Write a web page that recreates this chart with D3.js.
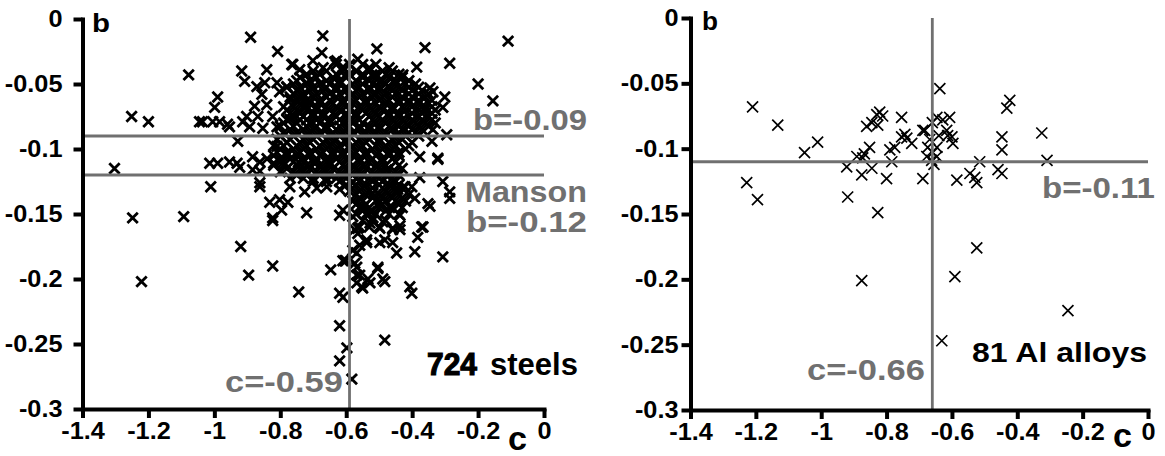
<!DOCTYPE html>
<html><head><meta charset="utf-8">
<script src="https://cdn.jsdelivr.net/npm/d3@7"></script>
<style>
body{margin:0;background:#fff}
svg text{font-family:"Liberation Sans",Arial,sans-serif;font-weight:bold}
</style></head><body>
<svg id="chart" width="1165" height="456"></svg>
<script>
// axis ticks
var xTicks = [-1.4,-1.2,-1,-0.8,-0.6,-0.4,-0.2,0];
var xTickLabels = ["-1.4","-1.2","-1","-0.8","-0.6","-0.4","-0.2","0"];
var yTicks = [0,-0.05,-0.1,-0.15,-0.2,-0.25,-0.3];
var yTickLabels = ["0","-0.05","-0.1","-0.15","-0.2","-0.25","-0.3"];

// reference lines
var steelsB = [-0.09,-0.12], steelsC = -0.59;
var alloysB = [-0.11], alloysC = -0.66;

// steels: scattered points [c, b]
var steelsOuter = [
[-1.303,-0.115],[-1.251,-0.075],[-1.200,-0.079],[-1.248,-0.153],[-1.221,-0.202],[-1.093,-0.152],[-1.078,-0.043],
[-1.045,-0.079],[-1.005,-0.079],[-0.984,-0.079],[-0.999,-0.068],[-0.990,-0.060],[-1.036,-0.079],[-0.960,-0.081],
[-0.954,-0.083],[-0.914,-0.079],[-0.929,-0.094],[-1.014,-0.111],[-0.990,-0.111],[-0.954,-0.110],[-1.011,-0.129],
[-0.890,-0.014],[-0.808,-0.025],[-0.762,-0.035],[-0.917,-0.040],[-0.908,-0.048],[-0.841,-0.039],[-0.847,-0.049],
[-0.871,-0.052],[-0.856,-0.058],[-0.810,-0.049],[-0.802,-0.056],[-0.878,-0.067],[-0.841,-0.066],[-0.902,-0.075],
[-0.868,-0.075],[-0.823,-0.075],[-0.893,-0.083],[-0.853,-0.084],[-0.810,-0.083],[-0.771,-0.077],[-0.771,-0.062],
[-0.780,-0.052],[-0.720,-0.049],[-0.741,-0.060],[-0.720,-0.067],[-0.741,-0.072],[-0.741,-0.039],[-0.884,-0.106],
[-0.884,-0.116],[-0.862,-0.129],[-0.810,-0.098],[-0.780,-0.095],[-0.931,-0.111],[-0.862,-0.110],[-0.820,-0.111],
[-0.790,-0.110],[-0.745,-0.110],[-0.695,-0.111],[-0.650,-0.110],[-0.862,-0.117],[-0.923,-0.114],
[-0.862,-0.126],[-0.771,-0.129],[-0.726,-0.133],[-0.689,-0.130],[-0.659,-0.129],[-0.620,-0.131],[-0.832,-0.141],
[-0.802,-0.139],[-0.777,-0.141],[-0.796,-0.147],[-0.823,-0.155],[-0.720,-0.149],[-0.620,-0.151],[-0.823,-0.153],
[-0.920,-0.175],[-0.896,-0.197],[-0.823,-0.190],[-0.744,-0.210],[-0.647,-0.193],[-0.604,-0.186],[-0.620,-0.211],
[-0.610,-0.214],[-0.620,-0.236],[-0.598,-0.253],[-0.620,-0.263],[-0.583,-0.277],[-0.580,-0.152],[-0.574,-0.162],
[-0.580,-0.178],[-0.574,-0.188],[-0.568,-0.197],[-0.568,-0.203],[-0.483,-0.247],[-0.601,-0.186],[-0.568,-0.191],
[-0.559,-0.197],[-0.550,-0.207],[-0.528,-0.203],[-0.504,-0.192],[-0.483,-0.202],[-0.407,-0.206],[-0.401,-0.211],
[-0.307,-0.183],[-0.392,-0.179],[-0.383,-0.168],[-0.367,-0.160],[-0.447,-0.180],[-0.459,-0.172],[-0.498,-0.172],
[-0.538,-0.170],[-0.559,-0.174],[-0.568,-0.180],[-0.498,-0.161],[-0.459,-0.161],[-0.437,-0.162],[-0.528,-0.157],
[-0.565,-0.161],[-0.322,-0.108],[-0.307,-0.125],[-0.286,-0.133],[-0.286,-0.138],[-0.352,-0.142],[-0.346,-0.144],
[-0.392,-0.138],[-0.401,-0.129],[-0.377,-0.122],[-0.444,-0.131],[-0.453,-0.125],[-0.422,-0.129],[-0.477,-0.116],
[-0.519,-0.134],[-0.498,-0.141],[-0.468,-0.145],[-0.437,-0.151],[-0.559,-0.138],[-0.550,-0.145],[-0.528,-0.148],
[-0.519,-0.153],[-0.489,-0.156],[-0.459,-0.162],[-0.437,-0.159],[-0.371,-0.160],[-0.565,-0.165],[-0.538,-0.172],
[-0.483,-0.170],[-0.504,-0.191],[-0.534,-0.200],[-0.489,-0.200],[-0.553,-0.206],[-0.610,-0.147],[-0.610,-0.186],
[-0.580,-0.126],[-0.109,-0.017],[-0.200,-0.050],[-0.155,-0.063],[-0.286,-0.034],[-0.361,-0.022],[-0.507,-0.023],
[-0.386,-0.037],[-0.428,-0.043],[-0.522,-0.043],[-0.498,-0.048],[-0.474,-0.052],[-0.565,-0.031],[-0.346,-0.053],
[-0.337,-0.056],[-0.301,-0.060],[-0.307,-0.068],[-0.361,-0.068],[-0.295,-0.089],[-0.340,-0.094],[-0.322,-0.107],
[-0.377,-0.106],[-0.337,-0.085],[-0.671,-0.013],[-0.674,-0.026],[-0.701,-0.032],[-0.765,-0.035],[-0.629,-0.032],
[-0.568,-0.040],[-0.519,-0.044],[-0.431,-0.044],[-0.635,-0.033],[-0.610,-0.037]
];

// steels: dense core, read row by row [b, c values]
var steelsCore = [
[-0.035,[-0.63,-0.59,-0.55,-0.51]],
[-0.0375,[-0.67,-0.61,-0.53,-0.47]],
[-0.040,[-0.70,-0.66,-0.61,-0.57,-0.53,-0.49,-0.46]],
[-0.0425,[-0.72,-0.68,-0.63,-0.59,-0.55,-0.51,-0.48,-0.44]],
[-0.045,[-0.74,-0.69,-0.64,-0.60,-0.55,-0.51,-0.47,-0.43]],
[-0.0475,[-0.75,-0.71,-0.66,-0.62,-0.57,-0.53,-0.49,-0.45,-0.41]],
[-0.050,[-0.76,-0.72,-0.68,-0.65,-0.62,-0.58,-0.55,-0.52,-0.48,-0.45,-0.42,-0.39]],
[-0.0525,[-0.78,-0.74,-0.70,-0.66,-0.63,-0.60,-0.56,-0.53,-0.50,-0.47,-0.44,-0.41,-0.38]],
[-0.055,[-0.75,-0.71,-0.67,-0.63,-0.60,-0.57,-0.53,-0.50,-0.46,-0.43,-0.40,-0.37]],
[-0.0575,[-0.76,-0.73,-0.69,-0.65,-0.62,-0.58,-0.55,-0.51,-0.48,-0.45,-0.41,-0.38,-0.35]],
[-0.060,[-0.77,-0.73,-0.70,-0.66,-0.63,-0.59,-0.56,-0.52,-0.49,-0.46,-0.43,-0.40,-0.36]],
[-0.0625,[-0.75,-0.72,-0.68,-0.65,-0.61,-0.57,-0.54,-0.50,-0.47,-0.44,-0.41,-0.38,-0.34]],
[-0.065,[-0.74,-0.71,-0.68,-0.64,-0.61,-0.58,-0.54,-0.51,-0.48,-0.44,-0.41,-0.38,-0.35]],
[-0.0675,[-0.79,-0.76,-0.73,-0.69,-0.66,-0.63,-0.60,-0.56,-0.53,-0.50,-0.46,-0.43,-0.40,-0.37,-0.34]],
[-0.070,[-0.78,-0.75,-0.72,-0.69,-0.65,-0.62,-0.59,-0.55,-0.52,-0.49,-0.46,-0.42,-0.39,-0.36,-0.33]],
[-0.0725,[-0.77,-0.74,-0.70,-0.67,-0.64,-0.60,-0.57,-0.54,-0.51,-0.47,-0.44,-0.40,-0.37,-0.34]],
[-0.075,[-0.76,-0.73,-0.70,-0.67,-0.63,-0.60,-0.57,-0.53,-0.50,-0.47,-0.44,-0.41,-0.38,-0.35]],
[-0.0775,[-0.78,-0.74,-0.72,-0.69,-0.65,-0.62,-0.59,-0.56,-0.52,-0.49,-0.46,-0.43,-0.40,-0.37,-0.34]],
[-0.080,[-0.79,-0.75,-0.71,-0.68,-0.65,-0.61,-0.58,-0.55,-0.51,-0.48,-0.45,-0.42,-0.39,-0.36,-0.33]],
[-0.0825,[-0.80,-0.76,-0.72,-0.69,-0.66,-0.62,-0.59,-0.56,-0.53,-0.50,-0.47,-0.44,-0.41,-0.38,-0.35]],
[-0.085,[-0.77,-0.73,-0.70,-0.66,-0.63,-0.60,-0.56,-0.53,-0.50,-0.46,-0.43,-0.40,-0.37]],
[-0.0875,[-0.79,-0.75,-0.71,-0.68,-0.64,-0.61,-0.58,-0.54,-0.51,-0.48,-0.44,-0.41,-0.39]],
[-0.090,[-0.80,-0.76,-0.72,-0.69,-0.65,-0.62,-0.59,-0.55,-0.52,-0.49,-0.45,-0.42,-0.38]],
[-0.0925,[-0.81,-0.77,-0.73,-0.70,-0.66,-0.63,-0.60,-0.56,-0.53,-0.50,-0.46,-0.43]],
[-0.095,[-0.78,-0.74,-0.71,-0.67,-0.64,-0.60,-0.57,-0.54,-0.50,-0.47,-0.44,-0.40]],
[-0.0975,[-0.82,-0.79,-0.75,-0.72,-0.68,-0.65,-0.62,-0.58,-0.55,-0.51,-0.48,-0.45,-0.41]],
[-0.100,[-0.80,-0.76,-0.73,-0.69,-0.66,-0.63,-0.59,-0.56,-0.52,-0.49,-0.46,-0.42]],
[-0.1025,[-0.81,-0.78,-0.74,-0.71,-0.67,-0.64,-0.61,-0.57,-0.54,-0.50,-0.47,-0.44]],
[-0.105,[-0.82,-0.78,-0.75,-0.71,-0.68,-0.64,-0.61,-0.58,-0.54,-0.51,-0.47,-0.44]],
[-0.1075,[-0.84,-0.80,-0.77,-0.73,-0.69,-0.66,-0.63,-0.60,-0.56,-0.52,-0.49,-0.46]],
[-0.110,[-0.80,-0.76,-0.73,-0.70,-0.66,-0.62,-0.59,-0.56,-0.53,-0.49,-0.45]],
[-0.1125,[-0.82,-0.79,-0.75,-0.72,-0.68,-0.65,-0.61,-0.58,-0.55,-0.51,-0.48,-0.44]],
[-0.115,[-0.78,-0.74,-0.71,-0.67,-0.64,-0.60,-0.57,-0.54,-0.50,-0.47,-0.43]],
[-0.1175,[-0.80,-0.76,-0.73,-0.69,-0.66,-0.62,-0.59,-0.56,-0.52,-0.49,-0.45]],
[-0.120,[-0.75,-0.72,-0.68,-0.65,-0.61,-0.58,-0.55,-0.51,-0.48,-0.44]],
[-0.1225,[-0.77,-0.73,-0.70,-0.66,-0.63,-0.60,-0.57,-0.53,-0.50,-0.46]],
[-0.125,[-0.70,-0.66,-0.62,-0.56,-0.52,-0.49,-0.45]],
[-0.1275,[-0.60,-0.57,-0.54,-0.50,-0.47,-0.44]],
[-0.130,[-0.58,-0.55,-0.52,-0.49,-0.46,-0.43]],
[-0.1325,[-0.59,-0.56,-0.53,-0.48,-0.45]],
[-0.135,[-0.57,-0.54,-0.50,-0.47,-0.44,-0.41]],
[-0.1375,[-0.56,-0.52,-0.49,-0.46,-0.43]],
[-0.140,[-0.58,-0.55,-0.51,-0.48,-0.45,-0.42]],
[-0.1425,[-0.57,-0.54,-0.49,-0.44]],
[-0.145,[-0.56,-0.53,-0.50,-0.46,-0.43]],
[-0.1475,[-0.55,-0.52,-0.48]],
[-0.150,[-0.57,-0.54,-0.51,-0.47,-0.44]],
[-0.155,[-0.55,-0.52,-0.48]],
[-0.160,[-0.56,-0.53,-0.50]]
];

// Al alloys [c, b]
var alloys = [
[-1.210,-0.068],[-1.133,-0.082],[-1.228,-0.126],[-1.195,-0.139],[-1.051,-0.103],[-1.011,-0.095],
[-0.922,-0.114],[-0.919,-0.137],[-0.876,-0.201],[-0.891,-0.106],[-0.876,-0.120],[-0.873,-0.107],
[-0.868,-0.104],[-0.845,-0.115],[-0.852,-0.099],[-0.861,-0.083],[-0.845,-0.080],[-0.830,-0.074],
[-0.821,-0.072],[-0.812,-0.075],[-0.827,-0.082],[-0.827,-0.149],[-0.800,-0.123],[-0.784,-0.110],
[-0.775,-0.099],[-0.790,-0.101],[-0.754,-0.076],[-0.754,-0.091],[-0.738,-0.092],[-0.723,-0.096],
[-0.744,-0.089],[-0.689,-0.123],[-0.683,-0.086],[-0.689,-0.086],[-0.668,-0.093],[-0.677,-0.106],[-0.674,-0.099],
[-0.659,-0.103],[-0.662,-0.109],[-0.646,-0.106],[-0.646,-0.099],[-0.655,-0.112],[-0.637,-0.054],
[-0.646,-0.076],[-0.628,-0.078],[-0.607,-0.076],[-0.616,-0.086],[-0.613,-0.090],[-0.600,-0.091],
[-0.597,-0.096],[-0.585,-0.124],[-0.545,-0.119],[-0.530,-0.122],[-0.524,-0.126],[-0.515,-0.110],
[-0.459,-0.116],[-0.447,-0.119],[-0.447,-0.101],[-0.447,-0.091],[-0.432,-0.069],[-0.423,-0.063],
[-0.325,-0.088],[-0.309,-0.109],[-0.524,-0.176],[-0.591,-0.198],[-0.245,-0.224],[-0.631,-0.247],
[-0.640,-0.090],[-0.660,-0.080]
];

var steels = steelsOuter.slice();
steelsCore.forEach(function(r){ r[1].forEach(function(c){ steels.push([c, r[0]]); }); });

var svg = d3.select("#chart");
var grey = "#707070";

function stretch(sel, k) {
  sel.each(function(){
    var w = this.getComputedTextLength();
    d3.select(this).attr("textLength", w*k).attr("lengthAdjust","spacingAndGlyphs");
  });
}

function drawPanel(p) {
  var g = svg.append("g");
  var x = d3.scaleLinear().domain([-1.4,0]).range(p.xr);
  var y = d3.scaleLinear().domain([0,-0.3]).range(p.yr);
  var s = p.ms;

  g.selectAll("path.pt").data(p.points).enter().append("path")
    .attr("class","pt")
    .attr("transform", function(d){ return "translate(" + x(d[0]) + "," + y(d[1]) + ")"; })
    .attr("d", "M"+(-s)+","+(-s)+"L"+s+","+s+"M"+(-s)+","+s+"L"+s+","+(-s))
    .attr("fill","none").attr("stroke","#000").attr("stroke-width",p.sw);

  g.selectAll("line.hl").data(p.hLines).enter().append("line")
    .attr("x1",x(-1.4)).attr("x2",x(0))
    .attr("y1",function(d){return y(d);}).attr("y2",function(d){return y(d);})
    .attr("stroke",grey).attr("stroke-width",2.8);
  g.append("line")
    .attr("x1",x(p.vLine)).attr("x2",x(p.vLine)).attr("y1",y(0)).attr("y2",y(-0.3))
    .attr("stroke",grey).attr("stroke-width",2.8);

  var ya = g.append("g").attr("transform","translate("+p.xr[0]+",0)")
    .call(d3.axisLeft(y).tickValues(yTicks).tickFormat(function(d,i){return yTickLabels[i];})
      .tickSize(9).tickPadding(p.yPad).tickSizeOuter(0));
  var xa = g.append("g").attr("transform","translate(0,"+p.yr[1]+")")
    .call(d3.axisBottom(x).tickValues(xTicks).tickFormat(function(d,i){return xTickLabels[i];})
      .tickSize(9).tickPadding(5).tickSizeOuter(0));
  [ya, xa].forEach(function(a){
    a.attr("font-size",23).attr("font-family",null);
    a.select(".domain").attr("stroke","#000").attr("stroke-width",4).attr("stroke-linecap","square");
    a.selectAll(".tick line").attr("stroke","#000").attr("stroke-width",4);
    a.selectAll(".tick text").attr("fill","#000");
    stretch(a.selectAll(".tick text"), 1.1);
  });

  g.selectAll("text.lab").data(p.labels).enter().append("text")
    .attr("class","lab")
    .attr("x",function(d){return d.x;}).attr("y",function(d){return d.y;})
    .attr("font-size",function(d){return d.size;})
    .attr("fill",function(d){return d.fill;})
    .attr("stroke",function(d){return d.bold ? d.fill : null;})
    .attr("stroke-width",function(d){return d.bold ? 1.2 : null;})
    .attr("textLength",function(d){return d.w;})
    .attr("lengthAdjust","spacingAndGlyphs")
    .text(function(d){return d.t;});
}

drawPanel({
  xr:[82.5,544], yr:[19,409], points:steels, ms:5.2, sw:2.8, yPad:11,
  hLines:steelsB, vLine:steelsC,
  labels:[
    {t:"b=-0.09", x:473, y:130, w:114, size:30, fill:grey},
    {t:"Manson", x:465, y:202, w:122, size:29, fill:grey},
    {t:"b=-0.12", x:466, y:232, w:121, size:30, fill:grey},
    {t:"c=-0.59", x:225, y:392, w:118, size:29, fill:grey},
    {t:"724", x:427, y:375, w:50, size:32, fill:"#000", bold:true},
    {t:"steels", x:490, y:375, w:88, size:32, fill:"#000"},
    {t:"b", x:92, y:32, w:18, size:26, fill:"#000"},
    {t:"c", x:508, y:450, w:19, size:33, fill:"#000"}
  ]
});

drawPanel({
  xr:[690.5,1148], yr:[18,410], points:alloys, ms:5.5, sw:1.7, yPad:3,
  hLines:alloysB, vLine:alloysC,
  labels:[
    {t:"b=-0.11", x:1042, y:198, w:113, size:30, fill:grey},
    {t:"c=-0.66", x:807, y:380, w:118, size:29, fill:grey},
    {t:"81 Al alloys", x:972, y:362, w:175, size:27, fill:"#000"},
    {t:"b", x:702, y:30, w:16, size:26, fill:"#000"},
    {t:"c", x:1113, y:447, w:19, size:33, fill:"#000"}
  ]
});
</script>
</body></html>
